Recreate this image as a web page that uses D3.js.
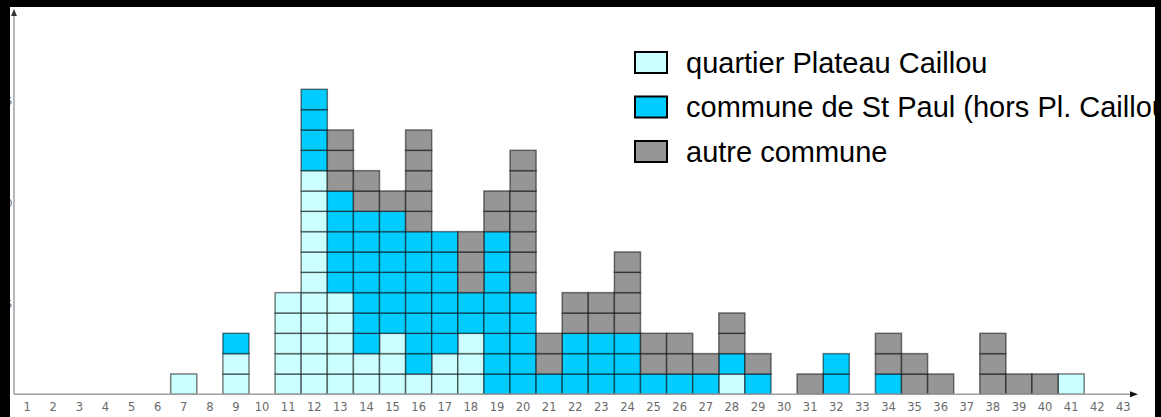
<!DOCTYPE html>
<html>
<head>
<meta charset="utf-8">
<script src="https://cdn.jsdelivr.net/npm/d3@7"></script>
<style>
  html, body { margin: 0; padding: 0; background: #fff; }
  svg { display: block; }
</style>
</head>
<body>
<svg id="chart" width="1161" height="417"></svg>
<script>
// ---- data ----
const categories = d3.range(1, 44); // 1..43
const seriesNames = ["quartier Plateau Caillou", "commune de St Paul (hors Pl. Caillou)", "autre commune"];
const seriesColors = ["#ccffff", "#00ccff", "#969696"];
// values indexed by category 1..43
const quartier = [0,0,0,0,0,0,1,0,2,0, 5,11,5,2,3,1,2,3,0,0, 0,0,0,0,0,0,0,1,0,0, 0,0,0,0,0,0,0,0,0,0, 1,0,0];
const commune  = [0,0,0,0,0,0,0,0,1,0, 0,4,5,7,6,7,6,2,8,5, 1,3,3,3,1,1,1,1,1,0, 0,2,0,1,0,0,0,0,0,0, 0,0,0];
const autre    = [0,0,0,0,0,0,0,0,0,0, 0,0,3,2,1,5,0,3,2,7, 2,2,2,4,2,2,1,2,1,0, 1,0,0,2,2,1,0,3,1,1, 0,0,0];
const yTicks = [5, 10, 15];

// ---- layout ----
const svg = d3.select("#chart");
const x0 = 14.1, pitch = 26.1;
const x = d3.scaleBand().domain(categories).range([x0, x0 + pitch * categories.length]).padding(0);
const y = d3.scaleLinear().domain([0, 15]).range([394.3, 89.3]);

const table = categories.map((c, i) => ({ cat: c, q: quartier[i], c: commune[i], a: autre[i] }));
const stack = d3.stack().keys(["q", "c", "a"]);
const layers = stack(table);

// unit cells
const g = svg.append("g");
layers.forEach((layer, li) => {
  const cells = [];
  layer.forEach(d => {
    for (let v = d[0]; v < d[1]; v++) cells.push({ cat: d.data.cat, v });
  });
  g.selectAll(null).data(cells).enter().append("rect")
    .attr("x", d => x(d.cat))
    .attr("y", d => y(d.v + 1))
    .attr("width", x.bandwidth())
    .attr("height", y(0) - y(1))
    .attr("fill", seriesColors[li])
    .attr("stroke", "rgba(0,0,0,0.5)")
    .attr("stroke-width", 1.5);
});

// axes
const axisColor = "#a0a0a0";
svg.append("line").attr("x1", 14).attr("x2", 1132).attr("y1", y(0)).attr("y2", y(0))
  .attr("stroke", axisColor).attr("stroke-width", 1.5);
svg.append("path").attr("d", `M1138,${y(0)} L1130,${y(0) - 3} L1130,${y(0) + 3} Z`).attr("fill", "#111");
svg.append("line").attr("x1", 14).attr("x2", 14).attr("y1", y(0)).attr("y2", 16)
  .attr("stroke", axisColor).attr("stroke-width", 1.5);
svg.append("path").attr("d", `M14,9 L11,16 L17,16 Z`).attr("fill", "#333");

// x tick labels
svg.append("g").selectAll("text").data(categories).enter().append("text")
  .attr("x", d => x(d) + x.bandwidth() / 2)
  .attr("y", 411)
  .attr("text-anchor", "middle")
  .attr("font-family", "DejaVu Sans")
  .attr("font-size", 11.5)
  .attr("fill", "#6a6a6a")
  .text(d => d);

// y tick labels (clipped by frame)
svg.append("g").selectAll("text").data(yTicks).enter().append("text")
  .attr("x", 12.5)
  .attr("y", d => y(d) + 12)
  .attr("dy", "0.35em")
  .attr("text-anchor", "end")
  .attr("font-family", "DejaVu Sans")
  .attr("font-size", 11)
  .attr("fill", "#777")
  .text(d => d);

// legend
const legend = svg.append("g");
seriesNames.forEach((name, i) => {
  const ly = 52 + i * 44.5;
  legend.append("rect").attr("x", 635).attr("y", ly).attr("width", 32).attr("height", 21)
    .attr("fill", seriesColors[i]).attr("stroke", "#000").attr("stroke-width", 2);
  legend.append("text").attr("x", 686).attr("y", ly + 20.5)
    .attr("font-family", "Liberation Sans, Arial, sans-serif")
    .attr("font-size", 29)
    .attr("fill", "#000")
    .text(name);
});

// black frame
svg.append("rect").attr("x", 0).attr("y", 0).attr("width", 1161).attr("height", 7).attr("fill", "#000");
svg.append("rect").attr("x", 0).attr("y", 0).attr("width", 10).attr("height", 417).attr("fill", "#000");
svg.append("rect").attr("x", 1155).attr("y", 0).attr("width", 6).attr("height", 417).attr("fill", "#000");
</script>
</body>
</html>
